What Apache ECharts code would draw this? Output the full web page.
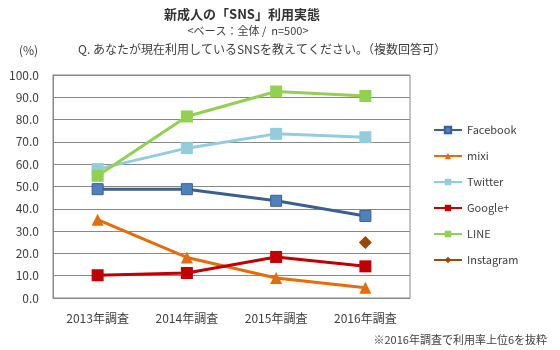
<!DOCTYPE html>
<html lang="ja">
<head>
	<meta charset="utf-8" />
	<title>新成人のSNS利用実態</title>
	<script src="https://cdn.jsdelivr.net/npm/echarts@6/dist/echarts.min.js"></script>
	<style>
		html, body { margin: 0; padding: 0; background: #fff; }
		#chart { width: 560px; height: 350px; }
	</style>
</head>
<body>
	<div id="chart"></div>
	<script>
		var years = ['2013年調査', '2014年調査', '2015年調査', '2016年調査'];
		var facebook = [48.8, 48.8, 43.6, 36.8];
		var mixi = [35.1, 18.2, 9.0, 4.6];
		var twitter = [57.8, 67.2, 73.6, 72.1];
		var googlePlus = [10.2, 11.2, 18.4, 14.2];
		var line = [54.8, 81.4, 92.6, 90.6];
		var instagram = [null, null, null, 24.9];

		var font = '"Noto Sans CJK JP", sans-serif';
		var txt = '#404040';

		function mkSeries(name, data, lineColor, markColor, symbol, size, border) {
			return {
				name: name,
				type: 'line',
				data: data,
				symbol: symbol,
				symbolSize: size,
				showAllSymbol: true,
				lineStyle: { color: lineColor, width: 3 },
				itemStyle: { color: markColor, borderColor: border || markColor, borderWidth: border ? 1 : 0 },
				animation: false
			};
		}

		var chart = echarts.init(document.getElementById('chart'));
		chart.setOption({
			animation: false,
			textStyle: { fontFamily: font },
			title: [
				{ text: '新成人の「SNS」利用実態', left: 237, top: 3, textAlign: 'center',
					textStyle: { fontSize: 13, fontWeight: 'bold', color: '#333', fontFamily: font } },
				{ text: '<ベース：全体 /  n=500>', left: 243, top: 20, textAlign: 'center',
					textStyle: { fontSize: 11, fontWeight: 'normal', color: txt, fontFamily: font } },
				{ text: 'Q. あなたが現在利用しているSNSを教えてください。（複数回答可）', left: 73, top: 38,
					textStyle: { fontSize: 12, fontWeight: 'normal', color: txt, fontFamily: font } },
				{ text: '(%)', left: 14, top: 39,
					textStyle: { fontSize: 12, fontWeight: 'normal', color: txt, fontFamily: font } },
				{ text: '※2016年調査で利用率上位6を抜粋', right: 8, top: 329,
					textStyle: { fontSize: 11, fontWeight: 'normal', color: txt, fontFamily: font } }
			],
			grid: { left: 53, top: 75, width: 357, height: 223, containLabel: false },
			legend: {
				orient: 'vertical',
				left: 433,
				top: 124,
				padding: 0,
				itemGap: 14,
				itemWidth: 28,
				itemHeight: 8,
				textStyle: { fontSize: 11, color: txt, fontFamily: font, lineHeight: 12 },
				data: ['Facebook', 'mixi', 'Twitter', 'Google+', 'LINE', 'Instagram']
			},
			xAxis: {
				type: 'category',
				data: years,
				boundaryGap: true,
				axisLine: { lineStyle: { color: '#888' } },
				axisTick: { show: false },
				axisLabel: { color: txt, fontSize: 12, margin: 14, fontFamily: font }
			},
			yAxis: {
				type: 'value',
				min: 0,
				max: 100,
				interval: 10,
				axisLine: { show: true, lineStyle: { color: '#888' } },
				axisTick: { show: false },
				axisLabel: { color: txt, fontSize: 12, margin: 14, fontFamily: font,
					formatter: function (v) { return v.toFixed(1); } },
				splitLine: { lineStyle: { color: '#888' } }
			},
			series: [
				mkSeries('Facebook', facebook, '#3b5f8e', '#4f81bd', 'rect', 11, '#3b5f8e'),
				mkSeries('mixi', mixi, '#e46c0a', '#e46c0a', 'triangle', 12),
				mkSeries('Twitter', twitter, '#93cddd', '#93cddd', 'rect', 12),
				mkSeries('Google+', googlePlus, '#c00000', '#c00000', 'rect', 12),
				mkSeries('LINE', line, '#92d050', '#92d050', 'rect', 12),
				mkSeries('Instagram', instagram, '#984807', '#984807', 'diamond', 13)
			],
			graphic: [
				{ type: 'rect', shape: { x: 53, y: 75, width: 357, height: 223 },
					style: { fill: 'none', stroke: '#888', lineWidth: 1 }, silent: true }
			]
		});
	</script>
</body>
</html>
